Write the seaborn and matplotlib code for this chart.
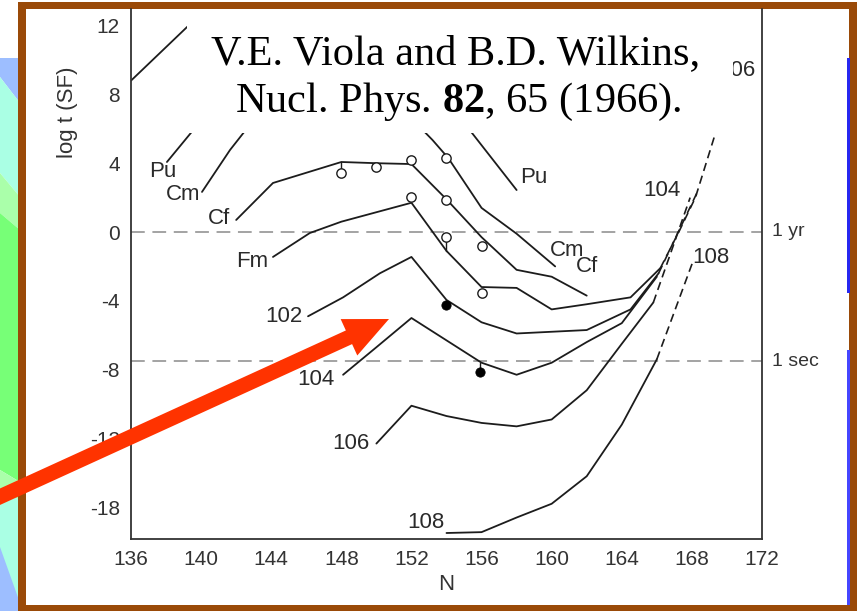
import matplotlib
matplotlib.use("Agg")
import matplotlib.pyplot as plt
import seaborn as sns
import pandas as pd
from matplotlib.patches import Rectangle, Polygon, FancyArrow
from matplotlib.transforms import IdentityTransform

# ---------------- data ----------------
x_ticks = [136, 140, 144, 148, 152, 156, 160, 164, 168, 172]
y_ticks = [12, 8, 4, 0, -4, -8, -12, -16]
y_tick_labels = ["12", "8", "4", "0", "-4", "-8", "-12", "-18"]

top_N = [136.0, 140.0]
top_y = [8.8, 12.7]

pu_N = [138.05, 140.5, 146.0, 150.0, 152.0, 155.0, 158.0]
pu_y = [4.07, 7.1, 10.2, 11.0, 10.6, 6.35, 2.44]

cm_N = [140.05, 141.65, 142.6, 146.0, 150.0, 152.0, 153.2, 154.1, 156.0, 158.0, 160.2]
cm_y = [2.33, 4.77, 6.0, 7.3, 7.2, 6.6, 5.35, 4.3, 1.4, -0.1, -2.0]

cf_N = [142.0, 144.1, 148.0, 150.0, 152.0, 154.0, 156.0, 158.0, 160.0, 162.0]
cf_y = [0.7, 2.85, 4.07, 4.0, 3.95, 1.9, -0.3, -2.2, -2.6, -3.7]

fm_N = [144.1, 146.2, 148.0, 150.0, 152.0, 154.0, 156.0, 158.0, 160.0, 162.0, 164.5, 166.2]
fm_y = [-1.45, -0.06, 0.6, 1.15, 1.7, -1.1, -3.2, -3.25, -4.5, -4.2, -3.8, -2.1]

z102_N = [146.1, 148.1, 150.2, 152.0, 154.0, 156.0, 158.0, 162.0, 164.5, 166.1]
z102_y = [-4.9, -3.8, -2.4, -1.45, -3.95, -5.25, -5.9, -5.7, -4.5, -2.4]

z104_N = [148.1, 150.0, 152.0, 154.0, 156.0, 158.0, 160.0, 162.0, 164.0, 166.0]
z104_y = [-8.3, -6.7, -5.0, -6.3, -7.6, -8.3, -7.6, -6.4, -5.3, -2.6]

z106_N = [150.0, 152.0, 154.0, 156.0, 158.0, 160.0, 162.0, 164.0, 165.8]
z106_y = [-12.3, -10.1, -10.7, -11.1, -11.3, -10.9, -9.2, -6.5, -4.1]

z108_N = [154.0, 156.0, 158.0, 160.0, 162.0, 164.0, 166.0]
z108_y = [-17.5, -17.45, -16.6, -15.8, -14.2, -11.2, -7.4]

# dashed extrapolations
ext_a_N = [166.2, 167.3, 168.2, 169.3]
ext_a_y = [-2.1, 0.1, 2.0, 5.6]
ext_b_N = [166.1, 168.3]
ext_b_y = [-2.4, 2.3]
ext_c_N = [165.8, 167.9]
ext_c_y = [-4.1, 2.0]
ext_d_N = [166.0, 168.1]
ext_d_y = [-7.4, -1.6]

# measured points
open_N = [148, 150, 152, 154, 152, 154, 154, 156, 156]
open_y = [3.43, 3.78, 4.19, 4.30, 2.03, 1.86, -0.29, -0.81, -3.55]
filled_N = [154.0, 155.9]
filled_y = [-4.24, -8.14]
stem_N = [148.0, 154.0, 155.9]
stem_lo = [3.43, -1.1, -8.14]
stem_hi = [4.07, -0.29, -7.6]

# reference lines
ref_y = [0.0, -7.5]
ref_labels = ["1 yr", "1 sec"]

# curve labels
lab_text = ["Pu", "Cm", "Cf", "Fm", "102", "104", "106", "108",
            "Pu", "Cm", "Cf", "104", "108", "106"]
lab_N = [137.8, 139.0, 141.0, 142.9, 144.7, 146.55, 148.55, 152.8,
         159.0, 160.9, 162.0, 166.3, 169.1, 170.55]
lab_y = [3.5, 2.2, 0.76, -1.74, -4.94, -8.55, -12.27, -16.9,
         3.14, -1.05, -2.03, 2.44, -1.5, 9.4]

# ---------------- figure ----------------
W, H = 859, 611
def fx(x):
    return x / W
def fy(y):
    return 1 - y / H

sns.set_style("white")
plt.rcParams["font.family"] = ["Liberation Sans", "DejaVu Sans"]
plt.rcParams["mathtext.fontset"] = "custom"
plt.rcParams["mathtext.rm"] = "Liberation Serif"
plt.rcParams["mathtext.bf"] = "Liberation Serif:bold"

fig = plt.figure(figsize=(W / 100, H / 100), dpi=100, facecolor="white")

# slide background on the left
bands = [
    ("#9DBEFF", [(0, 58), (20, 58), (20, 103), (0, 77)]),
    ("#AAFFE4", [(0, 77), (20, 103), (20, 197), (0, 173)]),
    ("#AAFFAA", [(0, 173), (20, 197), (20, 230), (0, 213)]),
    ("#77FF77", [(0, 213), (20, 230), (20, 482), (0, 470)]),
    ("#AAFFAA", [(0, 470), (20, 482), (20, 500), (0, 490)]),
    ("#AAFFE4", [(0, 490), (20, 500), (20, 611), (0, 611)]),
    ("#9DBEFF", [(0, 547), (20, 603), (20, 611), (0, 611)]),
]
for col, pts in bands:
    fig.add_artist(Polygon([(fx(a), fy(b)) for a, b in pts], closed=True,
                           facecolor=col, edgecolor="none", zorder=-10,
                           transform=fig.transFigure))

# brown frame and white card
fig.add_artist(Rectangle((fx(18), fy(611)), fx(857) - fx(18), (611 - 2) / H,
                         facecolor="#9A4A08", edgecolor="none", zorder=-9,
                         transform=fig.transFigure))
fig.add_artist(Rectangle((fx(26), fy(605)), fx(849) - fx(26), (605 - 9) / H,
                         facecolor="white", edgecolor="none", zorder=-8,
                         transform=fig.transFigure))
for y0, y1, col in [(58, 293, "#2828F0"), (350, 605, "#4646FF")]:
    fig.add_artist(Rectangle((fx(846.5), fy(y1)), 3 / W, (y1 - y0) / H,
                             facecolor=col, edgecolor="none", zorder=-7,
                             transform=fig.transFigure))

ax = fig.add_axes([fx(131), fy(539), (762 - 131) / W, (539 - 9) / H])
ax.set_facecolor("white")

line_col = "#1c1c1c"
solid = {"top": (top_N, top_y), "Pu": (pu_N, pu_y), "Cm": (cm_N, cm_y),
         "Cf": (cf_N, cf_y), "Fm": (fm_N, fm_y), "102": (z102_N, z102_y),
         "104": (z104_N, z104_y), "106": (z106_N, z106_y), "108": (z108_N, z108_y)}
rows = []
for name, (ns, ys) in solid.items():
    for n, y in zip(ns, ys):
        rows.append({"curve": name, "N": n, "logt": y})
df = pd.DataFrame(rows)
sns.lineplot(data=df, x="N", y="logt", hue="curve",
             palette={k: line_col for k in solid}, estimator=None, sort=False,
             legend=False, linewidth=1.3, ax=ax)

dashed = {"a": (ext_a_N, ext_a_y), "b": (ext_b_N, ext_b_y),
          "c": (ext_c_N, ext_c_y), "d": (ext_d_N, ext_d_y)}
rows = []
for name, (ns, ys) in dashed.items():
    for n, y in zip(ns, ys):
        rows.append({"curve": name, "N": n, "logt": y})
dfd = pd.DataFrame(rows)
sns.lineplot(data=dfd, x="N", y="logt", hue="curve",
             palette={k: line_col for k in dashed}, estimator=None, sort=False,
             legend=False, linewidth=1.2, linestyle=(0, (5, 3)), ax=ax)

for n, a, b in zip(stem_N, stem_lo, stem_hi):
    ax.plot([n, n], [a, b], color=line_col, lw=1.0, zorder=2)

sns.scatterplot(x=open_N, y=open_y, marker="o", s=45, facecolor="white",
                edgecolor=line_col, linewidth=1.0, ax=ax, zorder=4)
sns.scatterplot(x=filled_N, y=filled_y, marker="o", s=45, color="black",
                edgecolor="black", ax=ax, zorder=4)

for yv in ref_y:
    ax.axhline(yv, color="#8a8a8a", lw=1.1, dashes=(9, 5), zorder=1)
for yv, t in zip(ref_y, ref_labels):
    ax.text(1.016, yv, t, transform=ax.get_yaxis_transform(), ha="left",
            va="center", fontsize=14, color="#333333")

for t, n, y in zip(lab_text, lab_N, lab_y):
    ax.text(n, y, t, ha="center", va="center", fontsize=16, color="#2a2a2a",
            zorder=3)

ax.set_xlim(136, 172)
ax.set_ylim((232 - 539) / 17.2, (232 - 9) / 17.2)
ax.set_xticks(x_ticks)
ax.set_xticklabels([str(v) for v in x_ticks])
ax.set_yticks(y_ticks)
ax.set_yticklabels(y_tick_labels)
ax.tick_params(direction="in", length=5, width=1, color="#555555",
               labelcolor="#333333", labelsize=15)
ax.tick_params(axis="x", pad=8)
ax.tick_params(axis="y", pad=8)
ax.set_xlabel("")
ax.set_ylabel("")
for side in ["left", "bottom", "right"]:
    ax.spines[side].set_visible(True)
    ax.spines[side].set_color("#333333")
    ax.spines[side].set_linewidth(1.3)
ax.spines["top"].set_visible(False)

fig.text(fx(446), fy(585), "N", ha="center", va="center", fontsize=16,
         color="#333333")
fig.text(fx(67), fy(112), "log t (SF)", ha="center", va="center",
         rotation=90, fontsize=16, color="#333333")

# citation box
fig.add_artist(Rectangle((fx(187), fy(133)), fx(733) - fx(187), (133 - 9) / H,
                         facecolor="white", edgecolor="none", zorder=5,
                         transform=fig.transFigure))
fig.text(fx(456), fy(64), "V.E. Viola and B.D. Wilkins,", ha="center",
         va="baseline", fontsize=30.5, family="Liberation Serif", color="black",
         zorder=6)
fig.text(fx(458), fy(112), r"Nucl. Phys. $\mathbf{82}$, 65 (1966).",
         ha="center", va="baseline", fontsize=30.5, family="Liberation Serif",
         color="black", zorder=6)

# red arrow (pixel coordinates, origin bottom-left)
fig.add_artist(FancyArrow(-5, H - 499, 394, 180, width=15, head_width=40,
                          head_length=44, length_includes_head=True,
                          facecolor="#FF3300", edgecolor="none",
                          transform=IdentityTransform(), zorder=30))

fig.savefig("out.png", dpi=100, facecolor="white")
